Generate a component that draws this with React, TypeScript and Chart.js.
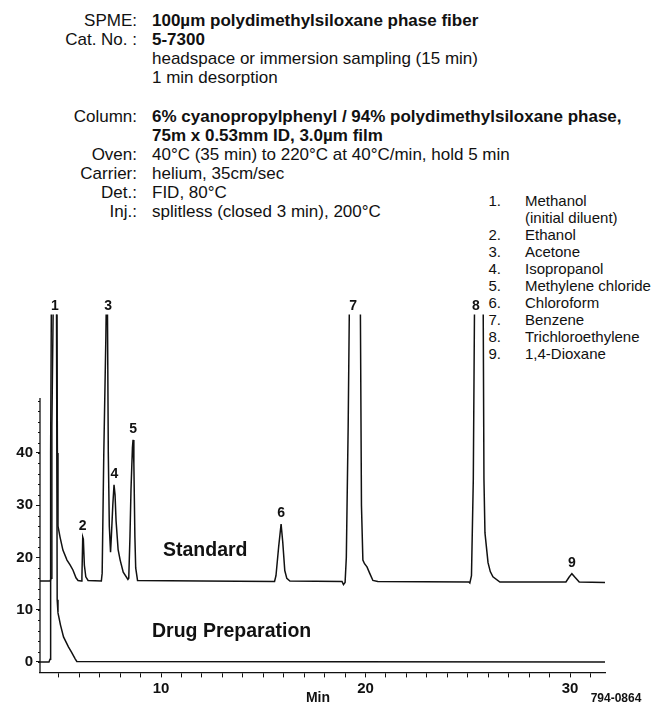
import { useEffect, useRef } from "react";
import { Chart, registerables } from "chart.js";

Chart.register(...registerables);

// Standard trace: retention time (min) and detector response for each vertex.
// Off-scale peaks are given responses above the plot's top so the pen runs off it.
const standardTime = [
  4.08, 4.58, 4.62, 4.66, 4.76, 4.9, 4.93, 4.96, 5.06, 5.2, 5.4, 5.55, 5.69, 5.84, 5.94, 6.1,
  6.13, 6.17, 6.2, 6.25, 6.32, 6.43,
  7.08, 7.12, 7.2, 7.3, 7.36, 7.4, 7.42, 7.47, 7.53, 7.57, 7.64, 7.7, 7.75, 7.8, 7.9, 8.0, 8.15, 8.38,
  8.42, 8.48, 8.53, 8.6, 8.63, 8.67, 8.72, 8.76, 8.85,
  12.0, 15.55, 15.62, 15.75, 15.87, 15.95, 16.05, 16.15, 16.3,
  18.85, 18.92, 19.0, 19.06, 19.15, 19.24, 19.73, 19.8, 19.87, 19.95, 20.07, 20.2, 20.36, 20.6,
  25.05, 25.1, 25.18, 25.27, 25.35, 25.74, 25.79, 25.84, 25.99, 26.1, 26.23, 26.57,
  29.8, 29.95, 30.09, 30.22, 30.45, 31.71,
];
const standardSignal = [
  15.5, 15.5, 16, 45, 80, 80, 40, 26, 23.9, 21.4, 19.5, 18.6, 17.6, 16.1, 15.6, 15.5,
  16.2, 23.9, 23.5, 18.5, 16.3, 15.6,
  15.5, 17, 40, 62, 80, 80, 40, 26, 21, 24, 30, 33.9, 32, 27, 21.5, 19.5, 17.2, 15.8,
  16, 24, 33, 41, 42.5, 38, 24, 18, 15.6,
  15.5, 15.4, 16.5, 22, 26.4, 23, 17.5, 16, 15.5,
  15.4, 14.8, 15.2, 20, 45, 80, 80, 30, 19.5, 18.8, 18.2, 17, 15.6, 15.4,
  15.3, 15.1, 16.5, 35, 80, 80, 35, 24.7, 19, 17.3, 16.3, 15.3,
  15.3, 16.2, 16.9, 16.3, 15.3, 15.2,
];

// Drug preparation trace: only the initial diluent peak
const drugTime = [4.08, 4.52, 4.57, 4.6, 4.65, 4.88, 4.92, 4.96, 5.08, 5.23, 5.47, 5.62, 5.8, 5.88, 31.71];
const drugSignal = [0, 0, 0.5, 40, 80, 80, 11.9, 9.4, 7.1, 4.8, 2.9, 1.9, 0.6, 0.1, 0];

// Peak numbers and the apex of each peak on the standard trace
const peakNumbers = ["1", "2", "3", "4", "5", "6", "7", "8", "9"];
const peakTimes = [4.81, 6.17, 7.41, 7.72, 8.63, 15.87, 19.39, 25.4, 30.09];
const peakApex = [80, 23.9, 80, 33.9, 42.5, 26.4, 80, 80, 16.9];

const compoundNames = [
  ["Methanol", "(initial diluent)"],
  ["Ethanol"],
  ["Acetone"],
  ["Isopropanol"],
  ["Methylene chloride"],
  ["Chloroform"],
  ["Benzene"],
  ["Trichloroethylene"],
  ["1,4-Dioxane"],
];

const yTickValues = [0, 10, 20, 30, 40];
const xTickValues = [5, 6, 7, 8, 9, 10, 11, 12, 13, 14, 15, 16, 17, 18, 19, 20, 21, 22, 23, 24, 25, 26, 27, 28, 29, 30, 31];
const xTickLabels = [10, 20, 30];

const conditions: [string, string, boolean][] = [
  ["SPME:", "100µm polydimethylsiloxane phase fiber", true],
  ["Cat. No. :", "5-7300", true],
  ["", "headspace or immersion sampling (15 min)", false],
  ["", "1 min desorption", false],
  ["Column:", "6% cyanopropylphenyl / 94% polydimethylsiloxane phase,", true],
  ["", "75m x 0.53mm ID, 3.0µm film", true],
  ["Oven:", "40°C (35 min) to 220°C at 40°C/min, hold 5 min", false],
  ["Carrier:", "helium, 35cm/sec", false],
  ["Det.:", "FID, 80°C", false],
  ["Inj.:", "splitless (closed 3 min), 200°C", false],
];
const conditionRows = [21, 40, 59, 78, 117, 136, 155, 174, 193, 212];

const FONT = '"Liberation Sans", Arial, Helvetica, sans-serif';
const INK = "#111";

const Y_MIN = -2;
const Y_MAX = 66.5;
const Y_AXIS_TOP = 50.5;

const toPoints = (t: number[], v: number[]) => t.map((x, i) => ({ x, y: v[i] }));

const chromatogramText = {
  id: "chromatogramText",
  afterDraw(chart: any) {
    const { ctx, chartArea, scales } = chart;
    const xs = scales.x;
    const ys = scales.y;
    ctx.save();

    // y axis stops short of the off-scale peaks
    ctx.strokeStyle = INK;
    ctx.lineWidth = 1.3;
    ctx.beginPath();
    ctx.moveTo(chartArea.left, ys.getPixelForValue(Y_MIN));
    ctx.lineTo(chartArea.left, ys.getPixelForValue(Y_AXIS_TOP));
    ctx.stroke();
    ctx.lineWidth = 1;
    for (let v = 0; v <= 50; v += 2) {
      const y = Math.round(ys.getPixelForValue(v)) + 0.5;
      ctx.beginPath();
      ctx.moveTo(chartArea.left - 2, y);
      ctx.lineTo(chartArea.left, y);
      ctx.stroke();
    }

    // peak numbers above each apex
    ctx.fillStyle = INK;
    ctx.font = `bold 14px ${FONT}`;
    ctx.textAlign = "center";
    ctx.textBaseline = "middle";
    peakNumbers.forEach((n, i) => {
      const apex = Math.min(peakApex[i], Y_MAX);
      const y = ys.getPixelForValue(apex) - (peakApex[i] > Y_MAX ? 8 : 11);
      ctx.fillText(n, xs.getPixelForValue(peakTimes[i]), y);
    });

    // trace names
    ctx.font = `bold 19.5px ${FONT}`;
    ctx.textAlign = "left";
    ctx.fillText("Standard", 163, 551);
    ctx.fillText("Drug Preparation", 152, 632);

    ctx.font = `bold 14px ${FONT}`;
    ctx.textAlign = "center";
    ctx.fillText("Min", 318, 698);
    ctx.font = `bold 12px ${FONT}`;
    ctx.fillText("794-0864", 616, 699);
    ctx.restore();
  },
};

export default function App() {
  const canvasRef = useRef<HTMLCanvasElement | null>(null);

  useEffect(() => {
    if (!canvasRef.current) return;
    const chart = new Chart(canvasRef.current, {
      type: "line",
      data: {
        datasets: [
          {
            label: "Standard",
            data: toPoints(standardTime, standardSignal),
            borderColor: INK,
            borderWidth: 1.5,
            pointRadius: 0,
            tension: 0,
          },
          {
            label: "Drug Preparation",
            data: toPoints(drugTime, drugSignal),
            borderColor: INK,
            borderWidth: 1.5,
            pointRadius: 0,
            tension: 0,
          },
        ],
      },
      options: {
        responsive: false,
        animation: false,
        parsing: true,
        layout: { padding: { top: 314.5, right: 51, left: 0, bottom: 0 } },
        plugins: { legend: { display: false }, tooltip: { enabled: false }, title: { display: false } },
        scales: {
          x: {
            type: "linear",
            min: 4.08,
            max: 31.71,
            afterFit: (s: any) => {
              s.height = 32.6;
            },
            afterBuildTicks: (s: any) => {
              s.ticks = xTickValues.map((value) => ({ value }));
            },
            border: { display: true, color: INK, width: 1.3 },
            grid: { display: true, drawOnChartArea: false, drawTicks: true, tickLength: 5, color: INK, lineWidth: 1 },
            ticks: {
              autoSkip: false,
              maxRotation: 0,
              padding: 2,
              color: INK,
              font: { family: FONT, size: 15, weight: "bold" },
              callback: (v: any) => (xTickLabels.includes(Number(v)) ? String(v) : ""),
            },
          },
          y: {
            type: "linear",
            min: Y_MIN,
            max: Y_MAX,
            afterFit: (s: any) => {
              s.width = 40;
            },
            afterBuildTicks: (s: any) => {
              s.ticks = yTickValues.map((value) => ({ value }));
            },
            border: { display: false },
            grid: { display: true, drawOnChartArea: false, drawTicks: true, tickLength: 4, color: INK, lineWidth: 1 },
            ticks: {
              padding: 3,
              color: INK,
              font: { family: FONT, size: 15, weight: "bold" },
            },
          },
        },
      },
      plugins: [chromatogramText],
    });
    return () => chart.destroy();
  }, []);

  return (
    <div style={{ position: "absolute", left: 0, top: 0, width: 656, height: 705, background: "#fff", fontFamily: FONT, color: INK }}>
      {conditions.map(([label, value, bold], i) => (
        <div key={i} style={{ position: "absolute", top: conditionRows[i] - 10, left: 0, height: 20, lineHeight: "20px", fontSize: 17, whiteSpace: "nowrap" }}>
          <span style={{ position: "absolute", left: 0, width: 137, textAlign: "right" }}>{label}</span>
          <span style={{ position: "absolute", left: 152, fontWeight: bold ? "bold" : "normal" }}>{value}</span>
        </div>
      ))}
      {compoundNames.map((lines, i) => {
        const row = i === 0 ? 0 : i + 1;
        return lines.map((line, j) => (
          <div key={`${i}-${j}`} style={{ position: "absolute", top: 201 + (row + j) * 17 - 9, left: 0, height: 18, lineHeight: "18px", fontSize: 15, whiteSpace: "nowrap" }}>
            {j === 0 && <span style={{ position: "absolute", left: 480, width: 21, textAlign: "right" }}>{`${i + 1}.`}</span>}
            <span style={{ position: "absolute", left: 525 }}>{line}</span>
          </div>
        ));
      })}
      <canvas ref={canvasRef} width={656} height={705} style={{ position: "absolute", left: 0, top: 0, display: "block" }} />
    </div>
  );
}
